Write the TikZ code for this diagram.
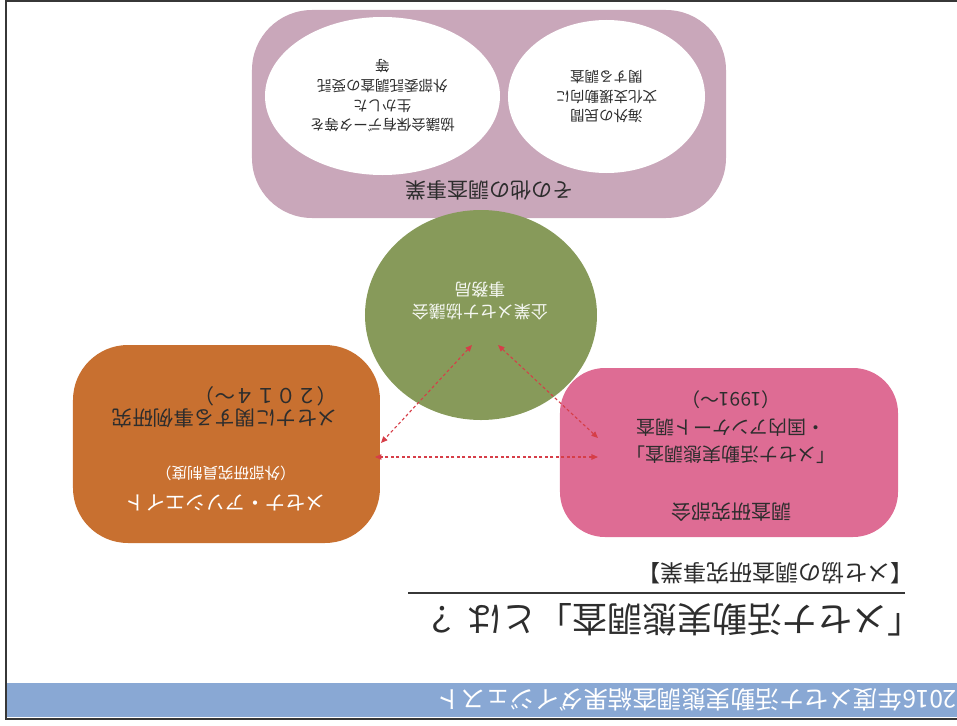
\documentclass[tikz,border=0pt]{standalone}
\usepackage{fontspec}
\setmainfont{Noto Sans CJK JP}
\usepackage{tikz}
\usetikzlibrary{shapes.geometric}
\usetikzlibrary{arrows.meta}

\definecolor{barblue}{RGB}{137,168,212}
\definecolor{mauve}{RGB}{201,167,186}
\definecolor{pinkbox}{RGB}{222,108,148}
\definecolor{orangebox}{RGB}{200,112,48}
\definecolor{olive}{RGB}{135,154,90}
\definecolor{linkred}{RGB}{214,62,72}
\definecolor{textdark}{RGB}{45,45,45}
\definecolor{framegray}{RGB}{55,55,55}

\begin{document}
\begin{tikzpicture}[
        x=1pt, y=1pt, rotate=180, transform shape,
        panel/.style={rectangle, rounded corners=#1, inner sep=0pt},
        bubble/.style={ellipse, fill=white, inner sep=0pt, align=center, text=textdark},
        txt/.style={inner sep=0pt, align=center, text=textdark},
        link/.style={<->, >={Triangle[length=6.5pt,width=5.5pt]}, linkred, line width=1.1pt, dash pattern=on 3pt off 2.5pt}
    ]
    \useasboundingbox (0,0) rectangle (957,725);

    % Frame and header bar
    \draw[framegray, line width=1.6pt] (-2,1) -- (951,1) -- (951,719) -- (-2,719);
    \node[fill=barblue, minimum width=950, minimum height=34, inner sep=0pt, anchor=south west] at (0,683) (bar) {};
    \node[txt, anchor=west, text=white, font=\fontsize{24.5}{27}\selectfont] at (0,700) (bartitle) {2016年度メセナ活動実態調査結果ダイジェスト};

    % Title
    \node[txt, anchor=west, font=\fontsize{35}{40}\selectfont] at (34,620) (title) {「メセナ活動実態調査」とは ？};
    \draw[framegray, line width=1.2pt] (52,593) -- (549,593);
    \node[txt, anchor=west, font=\fontsize{23}{26}\selectfont] at (43,573) (subtitle) {【メセ協の調査研究事業】};

    % Other surveys
    \node[panel=60pt, fill=mauve, minimum width=474, minimum height=208] at (468,114) (other) {};
    \node[txt, font=\fontsize{21}{24}\selectfont] at (467,190) (othertitle) {その他の調査事業};
    \node[bubble, minimum width=235, minimum height=158, font=\fontsize{14.5}{19.7}\selectfont] at (574.5,96) (inhouse) {協議会保有データ等を\\生かした\\外部委託調査の受託\\等};
    \node[bubble, minimum width=197, minimum height=153, font=\fontsize{14.5}{19.5}\selectfont] at (350.5,96.5) (abroad) {海外の民間\\文化支援動向に\\関する調査};

    % Secretariat
    \node[ellipse, fill=olive, minimum width=232, minimum height=210, inner sep=0pt] at (476,315) (office) {};
    \node[txt, text=white!92!olive, font=\fontsize{17}{22}\selectfont] at (477,301) (officename) {企業メセナ協議会\\事務局};

    % Research committee
    \node[panel=45pt, fill=pinkbox, minimum width=338, minimum height=169] at (228,452.5) (survey) {};
    \node[txt, font=\fontsize{20}{24}\selectfont] at (226,512) (surveyhead) {調査研究部会};
    \node[txt, font=\fontsize{19}{27.5}\selectfont] at (226,427.5) (surveybody) {「メセナ活動実態調査」\\・国内アンケート調査\\（1991～）};

    % Associates
    \node[panel=55pt, fill=orangebox, minimum width=307, minimum height=198] at (730.5,444) (assoc) {};
    \node[txt, text=white, font=\fontsize{20}{24}\selectfont] at (731,503) (assochead) {メセナ・アソシエイト};
    \node[txt, text=white, font=\fontsize{15.5}{18}\selectfont] at (731,473) (assocnote) {（外部研究員制度）};
    \node[txt, align=left, font=\fontsize{20.5}{22}\selectfont] at (732,407) (assocbody) {メセナに関する事例研究\\（２０１４～）};

    % Links
    \coordinate (office-a) at (485,345);
    \coordinate (office-s) at (459,345);
    \coordinate (assoc-o) at (576,443);
    \coordinate (assoc-s) at (582,457);
    \coordinate (survey-o) at (359,438);
    \coordinate (survey-a) at (359,457);
    \draw[link] (office-a) -- (assoc-o);
    \draw[link] (office-s) -- (survey-o);
    \draw[link] (survey-a) -- (assoc-s);

\end{tikzpicture}
\end{document}
